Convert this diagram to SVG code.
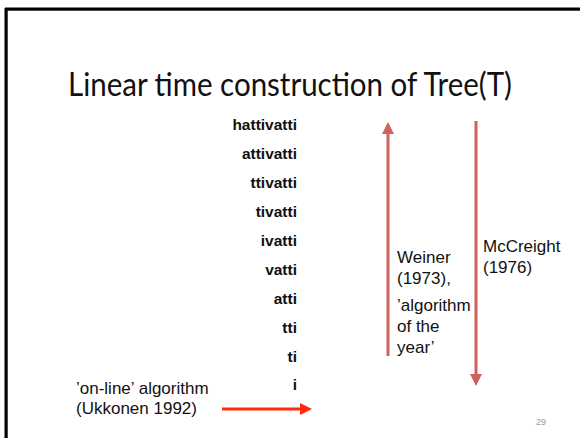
<svg xmlns="http://www.w3.org/2000/svg" width="580" height="438" viewBox="0 0 580 438">
  <style>
    .title { font-family: Lato, "Open Sans", sans-serif; font-size: 32px; fill: #111; }
    .suffix { font-family: "Liberation Sans", Arial, sans-serif; font-size: 15.5px; font-weight: bold; fill: #111; text-anchor: end; }
    .label { font-family: "Liberation Sans", Arial, sans-serif; font-size: 17px; fill: #111; }
    .pg { font-family: "Liberation Sans", Arial, sans-serif; font-size: 9px; fill: #999; }
    .pass { stroke: #d0625c; stroke-width: 3; fill: none; }
    .online { stroke: #ff2a0a; stroke-width: 3; fill: none; }
  </style>
  <defs>
    <marker id="headPass" markerWidth="4" markerHeight="4" refX="2" refY="2" orient="auto" markerUnits="strokeWidth">
      <path d="M0,0 L4,2 L0,4 Z" fill="#d0625c"/>
    </marker>
    <marker id="headOnline" markerWidth="4" markerHeight="4" refX="2" refY="2" orient="auto" markerUnits="strokeWidth">
      <path d="M0,0 L4,2 L0,4 Z" fill="#ff2a0a"/>
    </marker>
  </defs>

  <rect width="580" height="438" fill="#fff"/>

  <!-- slide frame -->
  <g id="frame">
    <line x1="7" y1="10.5" x2="580" y2="10.5" stroke="#999" stroke-width="1"/>
    <line x1="7.5" y1="11" x2="7.5" y2="438" stroke="#999" stroke-width="1"/>
    <line x1="5" y1="9" x2="580" y2="9" stroke="#000" stroke-width="3"/>
    <line x1="6" y1="8" x2="6" y2="438" stroke="#000" stroke-width="3"/>
  </g>

  <g id="title">
    <text class="title" x="68" y="96" textLength="444" lengthAdjust="spacingAndGlyphs">Linear time construction of Tree(T)</text>
  </g>

  <!-- suffixes of hattivatti -->
  <g id="suffixes">
    <text class="suffix" x="297" y="130">hattivatti</text>
    <text class="suffix" x="297" y="159">attivatti</text>
    <text class="suffix" x="297" y="188">ttivatti</text>
    <text class="suffix" x="297" y="217">tivatti</text>
    <text class="suffix" x="297" y="246">ivatti</text>
    <text class="suffix" x="297" y="275">vatti</text>
    <text class="suffix" x="297" y="304">atti</text>
    <text class="suffix" x="297" y="333">tti</text>
    <text class="suffix" x="297" y="362">ti</text>
    <text class="suffix" x="297" y="390">i</text>
  </g>

  <g id="weiner">
    <text class="label" x="397" y="263">Weiner</text>
    <text class="label" x="397" y="284">(1973),</text>
    <text class="label" x="397" y="311">’algorithm</text>
    <text class="label" x="397" y="332">of the</text>
    <text class="label" x="397" y="353">year’</text>
  </g>

  <g id="mccreight">
    <text class="label" x="483" y="252">McCreight</text>
    <text class="label" x="483" y="273">(1976)</text>
  </g>

  <g id="ukkonen">
    <text class="label" x="76" y="394">’on-line’ algorithm</text>
    <text class="label" x="76" y="414">(Ukkonen 1992)</text>
  </g>

  <g id="connectors">
    <line class="pass" x1="388" y1="356" x2="388" y2="128" marker-end="url(#headPass)"/>
    <line class="pass" x1="476" y1="121" x2="476" y2="380" marker-end="url(#headPass)"/>
    <line class="online" x1="222" y1="409" x2="306" y2="409" marker-end="url(#headOnline)"/>
  </g>

  <text class="pg" x="536" y="425">29</text>
</svg>
